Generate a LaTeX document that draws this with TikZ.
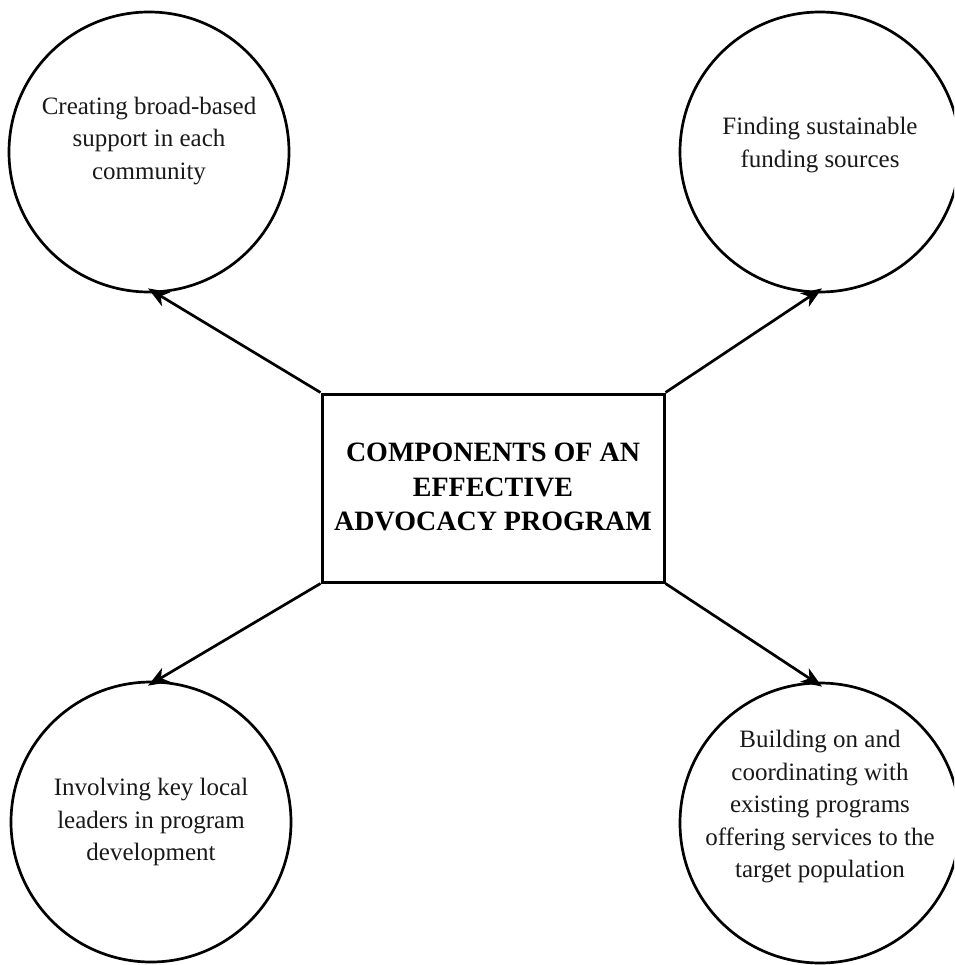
\documentclass[tikz,border=0pt]{standalone}
\usepackage{fontspec}
\setmainfont{Liberation Serif}
\usetikzlibrary{arrows.meta}
\begin{document}
\begin{tikzpicture}[x=1pt,y=-1pt,
  bubble/.style={draw=black,line width=2.7pt,circle,minimum size=280pt,inner sep=0pt},
  bubtext/.style={align=center,font=\fontsize{25}{32.5}\selectfont,inner sep=0pt,text=black!90},
  mainbox/.style={draw=black,line width=3pt,rectangle,minimum width=342pt,minimum height=188pt,inner sep=0pt},
  maintext/.style={align=center,font=\fontsize{28}{34.5}\selectfont\bfseries,inner sep=0pt},
  arr/.style={line width=2.7pt,-{Stealth[length=21pt,width=16pt,inset=6pt]}}]
\useasboundingbox (0,0) rectangle (954,965);
\clip (0,0) rectangle (954,965);
\node[mainbox] (box) at (493,488) {};
\node[maintext] (title) at (493,487) {COMPONENTS OF AN\\EFFECTIVE\\ADVOCACY PROGRAM};
\node[bubble] (c1) at (149,152) {};
\node[bubble] (c2) at (820,152) {};
\node[bubble] (c3) at (151,822) {};
\node[bubble] (c4) at (820,823) {};
\node[bubtext] (t1) at (149,141) {Creating broad-based\\support in each\\community};
\node[bubtext] (t2) at (820,145) {Finding sustainable\\funding sources};
\node[bubtext] (t3) at (151,822) {Involving key local\\leaders in program\\development};
\node[bubtext] (t4) at (820,807) {Building on and\\coordinating with\\existing programs\\offering services to the\\target population};
\coordinate (e1) at ([shift={(-1pt,5pt)}]c1.south);
\coordinate (e2) at ([shift={(2pt,5pt)}]c2.south);
\coordinate (e3) at ([shift={(-3pt,-5pt)}]c3.north);
\coordinate (e4) at ([shift={(2pt,-5pt)}]c4.north);
\draw[arr] (box.north west) -- (e1);
\draw[arr] (box.north east) -- (e2);
\draw[arr] (box.south west) -- (e3);
\draw[arr] (box.south east) -- (e4);
\end{tikzpicture}
\end{document}
